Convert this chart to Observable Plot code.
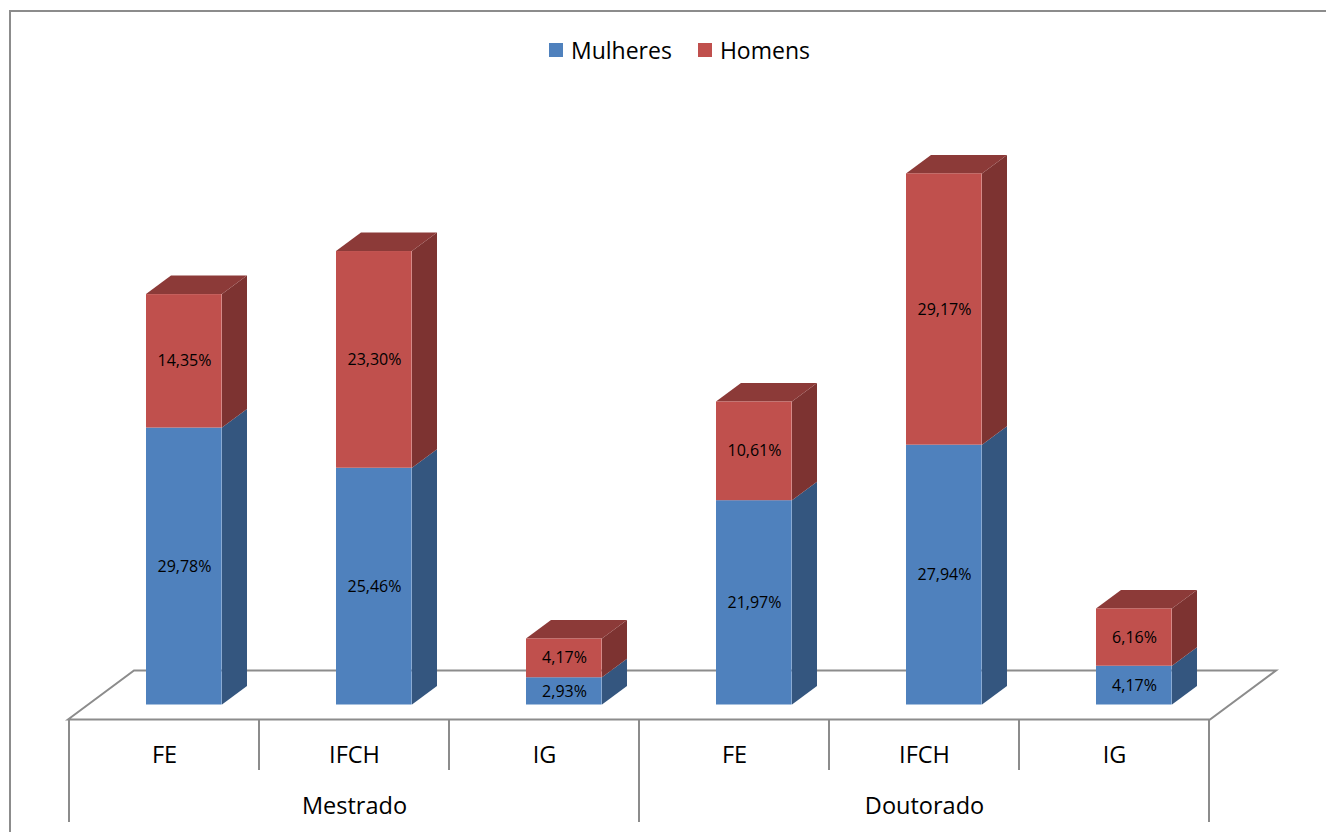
<!DOCTYPE html>
<html><head><meta charset="utf-8">
<script src="https://cdn.jsdelivr.net/npm/d3@7"></script>
<script src="https://cdn.jsdelivr.net/npm/@observablehq/plot@0.6"></script>
<style>
html,body{margin:0;padding:0;background:#fff;overflow:hidden;}
#wrap{position:relative;width:1326px;height:832px;overflow:hidden;font-family:"Open Sans",Lato,sans-serif;}
#frame{position:absolute;left:9px;top:10px;width:1400px;height:900px;border:2px solid #8c8c8c;box-sizing:border-box;}
#chart{position:absolute;left:0;top:0;}
#legend{position:absolute;top:34px;left:549px;display:flex;align-items:center;font-size:23px;color:#000;white-space:nowrap;}
#legend .sw{display:inline-block;width:14px;height:14px;margin-right:8px;}
#legend .it{display:flex;align-items:center;margin-right:26px;}
</style>
</head><body>
<div id="wrap"><div id="frame"></div><div id="chart"></div><div id="legend"></div></div>
<script>
// ---- data ----
const levels = ["Mestrado","Mestrado","Mestrado","Doutorado","Doutorado","Doutorado"];
const units = ["FE","IFCH","IG","FE","IFCH","IG"];
const groups = ["Mestrado","Doutorado"];
const series = ["Mulheres","Homens"];
const mulheres = [29.78,25.46,2.93,21.97,27.94,4.17];
const homens = [14.35,23.30,4.17,10.61,29.17,6.16];

// ---- styling ----
const frontColors = ["#4F81BD","#C0504D"];
const sideColors = {Mulheres:"#34567F", Homens:"#7D3331"};
const topColor = "#8C3A38";
const W = 1326, H = 832, ML = 68, MR = 116, MT = 146.5, MB = 127.5;
const OFF = 77, BARW = 76, DX = 25, DY = -18.5;
const BW = (W - ML - MR) / units.length;

const keys = units.map((u, i) => levels[i] + " · " + u);
const rows = [];
keys.forEach((k, i) => {
  rows.push({key: k, serie: "Mulheres", y1: 0, y2: mulheres[i], v: mulheres[i]});
  rows.push({key: k, serie: "Homens", y1: mulheres[i], y2: mulheres[i] + homens[i], v: homens[i]});
});
const fmt = v => v.toFixed(2).replace(".", ",") + "%";

function floorMark(index, scales, values, dims) {
  const y = scales.y;
  const xl = dims.marginLeft, xr = dims.width - dims.marginRight;
  const yf = y(0) + 15, yb = y(0) - 34, dxf = 66;
  const g = d3.create("svg:g");
  g.append("path")
    .attr("d", `M${xl},${yf}L${xl + dxf},${yb}L${xr + dxf},${yb}L${xr},${yf}Z`)
    .attr("fill", "none").attr("stroke", "#8c8c8c").attr("stroke-width", 2).attr("stroke-linejoin", "miter");
  return g.node();
}

function sidesMark(index, scales) {
  const x = scales.x, y = scales.y;
  const g = d3.create("svg:g");
  rows.forEach(r => {
    const x0 = x(r.key) + OFF, x1 = x0 + BARW;
    const ya = y(r.y2), yb = y(r.y1);
    g.append("path")
      .attr("d", `M${x1},${yb}L${x1 + DX},${yb + DY}L${x1 + DX},${ya + DY}L${x1},${ya}Z`)
      .attr("fill", sideColors[r.serie]);
    if (r.serie === "Homens") {
      g.append("path")
        .attr("d", `M${x0},${ya}L${x0 + DX},${ya + DY}L${x1 + DX},${ya + DY}L${x1},${ya}Z`)
        .attr("fill", topColor);
    }
  });
  return g.node();
}

function tableMark(index, scales) {
  const x = scales.x, y = scales.y;
  const bw = x.bandwidth();
  const yTop = y(0) + 15;
  const g = d3.create("svg:g").attr("stroke", "#8c8c8c").attr("stroke-width", 2);
  for (let i = 0; i <= keys.length; i++) {
    const xv = i < keys.length ? x(keys[i]) : x(keys[keys.length - 1]) + bw;
    const long = i % 3 === 0;
    g.append("line").attr("x1", xv).attr("x2", xv).attr("y1", yTop).attr("y2", long ? 822 : 770);
  }
  return g.node();
}

const chart = Plot.plot({
  width: W, height: H,
  marginLeft: ML, marginRight: MR, marginTop: MT, marginBottom: MB,
  style: {fontFamily: "'Open Sans', Lato, sans-serif", background: "transparent", overflow: "visible", color: "#000"},
  x: {type: "band", domain: keys, padding: 0, axis: null},
  y: {domain: [0, 60], axis: null},
  color: {domain: series, range: frontColors, legend: false},
  marks: [
    floorMark,
    sidesMark,
    Plot.barY(rows, {x: "key", y1: "y1", y2: "y2", fill: "serie", insetLeft: OFF, insetRight: BW - OFF - BARW}),
    Plot.text(rows, {x: "key", y: d => (d.y1 + d.y2) / 2, text: d => fmt(d.v), dx: 20, fontSize: 16, fill: "#000"}),
    tableMark,
    Plot.text(keys, {x: d => d, text: (d, i) => units[i], frameAnchor: "bottom", lineAnchor: "bottom", dy: 57.5, fontSize: 23.5, fill: "#000"}),
    Plot.text(groups, {x: (g, i) => keys[i * 3 + 1], text: d => d, frameAnchor: "bottom", lineAnchor: "bottom", dy: 108.5, fontSize: 23.5, fill: "#000"})
  ]
});
document.getElementById("chart").appendChild(chart);

const legend = document.getElementById("legend");
series.forEach((s, i) => {
  const it = document.createElement("span");
  it.className = "it";
  const sw = document.createElement("span");
  sw.className = "sw";
  sw.style.background = frontColors[i];
  it.appendChild(sw);
  it.appendChild(document.createTextNode(s));
  legend.appendChild(it);
});
</script>
</body></html>
